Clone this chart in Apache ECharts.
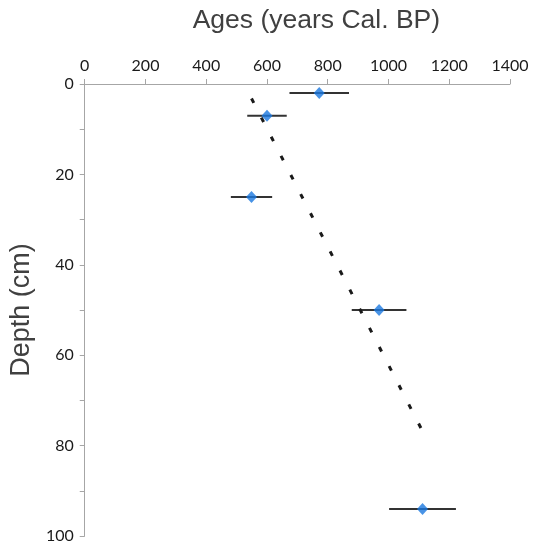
<!DOCTYPE html>
<html><head><meta charset="utf-8">
<script src="https://cdn.jsdelivr.net/npm/echarts@6/dist/echarts.min.js"></script>
<style>html,body{margin:0;padding:0;background:#fff}#c{width:534px;height:544px}</style>
</head><body><div id="c"></div>
<script>
const ages = [772, 600, 549, 969, 1112];
const depths = [2, 7, 25, 50, 94];
const ageErrors = [98, 65, 68, 90, 110];
const trendAges = [549, 1112];
const trendDepths = [3.2, 76.8];
const xTicks = [0, 200, 400, 600, 800, 1000, 1200, 1400];
const yTicks = [0, 20, 40, 60, 80, 100];

const pts = ages.map((a, i) => [a, depths[i]]);
const errData = ages.map((a, i) => [a - ageErrors[i], a + ageErrors[i], depths[i]]);
const trend = trendAges.map((a, i) => [a, trendDepths[i]]);

const chart = echarts.init(document.getElementById('c'));
const tickFont = 'Lato, "Open Sans", sans-serif';
const titleFont = '"Liberation Sans", Arial, sans-serif';
chart.setOption({
  animation: false,
  grid: {left: 83, top: 84, right: 24, bottom: 5},
  xAxis: {
    type: 'value', position: 'top', min: xTicks[0], max: xTicks[xTicks.length-1], interval: 200,
    name: 'Ages (years Cal. BP)', nameLocation: 'middle', nameGap: 50,
    nameTextStyle: {fontSize: 26.5, color: '#404040', fontFamily: titleFont, padding: [0, 0, 0, 38]},
    axisLine: {lineStyle: {color: '#a6a6a6', width: 1}},
    axisTick: {show: true, length: 5, lineStyle: {color: '#a6a6a6'}},
    axisLabel: {fontSize: 16, color: '#1a1a1a', margin: 10, fontFamily: tickFont,
      formatter: v => String(v)},
    splitLine: {show: false}
  },
  yAxis: {
    type: 'value', inverse: true, min: yTicks[0], max: yTicks[yTicks.length-1], interval: 20,
    name: 'Depth (cm)', nameLocation: 'middle', nameGap: 47,
    nameTextStyle: {fontSize: 27, color: '#404040', fontFamily: titleFont},
    axisLine: {show: true, lineStyle: {color: '#a6a6a6', width: 1}},
    axisTick: {show: true, length: 5, lineStyle: {color: '#a6a6a6'}},
    minorTick: {show: true, splitNumber: 2, length: 5, lineStyle: {color: '#a6a6a6'}},
    axisLabel: {fontSize: 16, color: '#1a1a1a', margin: 11, fontFamily: tickFont,
      formatter: v => String(v)},
    splitLine: {show: false}
  },
  series: [
    {
      type: 'line', data: trend, symbol: 'none',
      lineStyle: {color: '#1a1a1a', width: 3, type: [5, 16.5]}
    },
    {
      type: 'custom', data: errData,
      renderItem: function (params, api) {
        const p1 = api.coord([api.value(0), api.value(2)]);
        const p2 = api.coord([api.value(1), api.value(2)]);
        return {type: 'line', shape: {x1: p1[0], y1: p1[1], x2: p2[0], y2: p2[1]},
          style: {stroke: '#333333', lineWidth: 2}};
      },
      encode: {x: [0, 1], y: 2}
    },
    {
      type: 'scatter', data: pts, symbol: 'diamond', symbolSize: [11, 12],
      itemStyle: {color: '#1a78e0'}, z: 5
    }
  ]
});
</script></body></html>
